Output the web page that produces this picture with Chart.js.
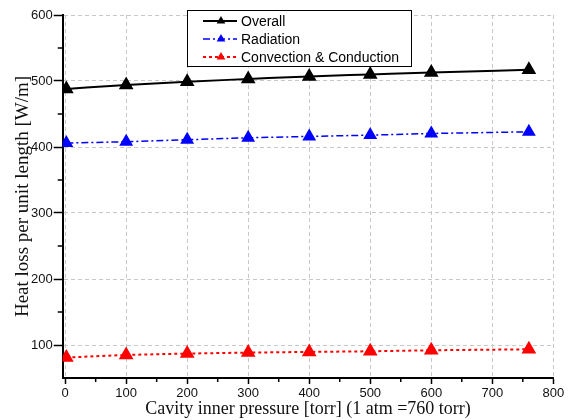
<!DOCTYPE html>
<html>
<head>
<meta charset="utf-8">
<script src="https://cdn.jsdelivr.net/npm/chart.js@4.4.1/dist/chart.umd.min.js"></script>
<style>
  html, body { margin: 0; padding: 0; background: #fff; }
</style>
</head>
<body>
<canvas id="graficaCalor" width="568" height="420"></canvas>
<script>
// Datos
const presion = [2, 100, 200, 300, 400, 500, 600, 760];
const overall = [488, 494, 499, 503, 507, 510, 513, 517];
const radiation = [406, 408, 411, 414, 416, 418, 420.5, 423];
const convection = [81, 85, 87, 88.5, 89.5, 90.5, 92, 93.5];
const nombres = ['Overall', 'Radiation', 'Convection & Conduction'];

// Ticks principales y secundarios
const xTicks = [0, 100, 200, 300, 400, 500, 600, 700, 800];
const xTicksMenores = [50, 150, 250, 350, 450, 550, 650, 750];
const yTicks = [100, 200, 300, 400, 500, 600];
const yTicksMenores = [150, 250, 350, 450, 550];

const serif = '"Times New Roman", "Liberation Serif", serif';
const sans = 'Arial, "Liberation Sans", sans-serif';

const puntos = (ys) => presion.map((p, i) => ({ x: p, y: ys[i] }));

// Leyenda dentro del grafico, con caja negra
const leyendaCaja = {
    id: 'leyendaCaja',
    afterDatasetsDraw(chart) {
        const ctx = chart.ctx;
        const x0 = 187, y0 = 10, w = 224, h = 56;
        ctx.save();
        ctx.fillStyle = '#fff';
        ctx.fillRect(x0, y0, w, h);
        ctx.strokeStyle = '#000';
        ctx.lineWidth = 1;
        ctx.strokeRect(x0 + 0.5, y0 + 0.5, w, h);
        chart.data.datasets.forEach((ds, i) => {
            const y = y0 + 11 + i * 18;
            ctx.strokeStyle = ds.borderColor;
            ctx.lineWidth = ds.borderWidth;
            ctx.setLineDash(ds.borderDash || []);
            ctx.beginPath();
            ctx.moveTo(x0 + 16, y);
            ctx.lineTo(x0 + 50, y);
            ctx.stroke();
            ctx.setLineDash([]);
            const r = 5, cx = x0 + 34;
            ctx.fillStyle = ds.pointBackgroundColor;
            ctx.beginPath();
            ctx.moveTo(cx, y - r);
            ctx.lineTo(cx + r * 0.866, y + r * 0.5);
            ctx.lineTo(cx - r * 0.866, y + r * 0.5);
            ctx.closePath();
            ctx.fill();
            ctx.fillStyle = '#000';
            ctx.font = '14px ' + sans;
            ctx.textBaseline = 'middle';
            ctx.textAlign = 'left';
            ctx.fillText(ds.label, x0 + 54, y + 1);
        });
        ctx.restore();
    }
};

// Ticks menores (sin etiqueta)
const ticksMenores = {
    id: 'ticksMenores',
    afterDraw(chart) {
        const { ctx, scales: { x, y } } = chart;
        ctx.save();
        ctx.strokeStyle = '#000';
        ctx.lineWidth = 1.5;
        xTicksMenores.forEach(v => {
            const px = x.getPixelForValue(v);
            ctx.beginPath();
            ctx.moveTo(px, x.top);
            ctx.lineTo(px, x.top + 4);
            ctx.stroke();
        });
        yTicksMenores.forEach(v => {
            const py = y.getPixelForValue(v);
            ctx.beginPath();
            ctx.moveTo(y.right - 5, py);
            ctx.lineTo(y.right, py);
            ctx.stroke();
        });
        ctx.restore();
    }
};

const ctx = document.getElementById('graficaCalor').getContext('2d');
const chartCalor = new Chart(ctx, {
    type: 'line',
    data: {
        datasets: [{
            label: nombres[0],
            data: puntos(overall),
            borderColor: '#000',
            pointBackgroundColor: '#000',
            borderWidth: 2,
            cubicInterpolationMode: 'monotone'
        }, {
            label: nombres[1],
            data: puntos(radiation),
            borderColor: '#0000ff',
            pointBackgroundColor: '#0000ff',
            borderWidth: 1.5,
            borderDash: [7, 3, 2, 3]
        }, {
            label: nombres[2],
            data: puntos(convection),
            borderColor: '#ff0000',
            pointBackgroundColor: '#ff0000',
            borderWidth: 2,
            borderDash: [3, 3]
        }]
    },
    options: {
        responsive: false,
        animation: false,
        layout: { padding: { left: 0, right: 14.7, top: 15, bottom: 0 } },
        elements: {
            point: { pointStyle: 'triangle', radius: 6.5, borderWidth: 0, hoverRadius: 6.5 }
        },
        plugins: {
            legend: { display: false },
            tooltip: { enabled: false }
        },
        scales: {
            x: {
                type: 'linear',
                min: -4,
                max: 800,
                afterBuildTicks: (scale) => { scale.ticks = xTicks.map(v => ({ value: v })); },
                afterFit: (scale) => { scale.height = 42; },
                ticks: { color: '#111', font: { family: sans, size: 13 }, padding: 2, maxRotation: 0 },
                grid: { color: '#c8c8c8', lineWidth: 1, tickColor: '#000', tickLength: 6, tickWidth: 1.5 },
                border: { color: '#000', width: 2, dash: [4, 3] },
                title: {
                    display: true,
                    text: 'Cavity inner pressure [torr] (1 atm =760 torr)',
                    color: '#111',
                    font: { family: serif, size: 18 },
                    padding: { top: 0, bottom: 0 }
                }
            },
            y: {
                min: 50,
                max: 600,
                afterBuildTicks: (scale) => { scale.ticks = yTicks.map(v => ({ value: v })); },
                afterFit: (scale) => { scale.width = 62.7; },
                ticks: { color: '#111', font: { family: sans, size: 13 }, padding: 1 },
                grid: { color: '#c8c8c8', lineWidth: 1, tickColor: '#000', tickLength: 9, tickWidth: 1.5 },
                border: { color: '#000', width: 2, dash: [4, 3] },
                title: {
                    display: true,
                    text: 'Heat loss per unit length [W/m]',
                    color: '#111',
                    font: { family: serif, size: 19 },
                    padding: { top: 12, bottom: 0 }
                }
            }
        }
    },
    plugins: [leyendaCaja, ticksMenores]
});
</script>
</body>
</html>
